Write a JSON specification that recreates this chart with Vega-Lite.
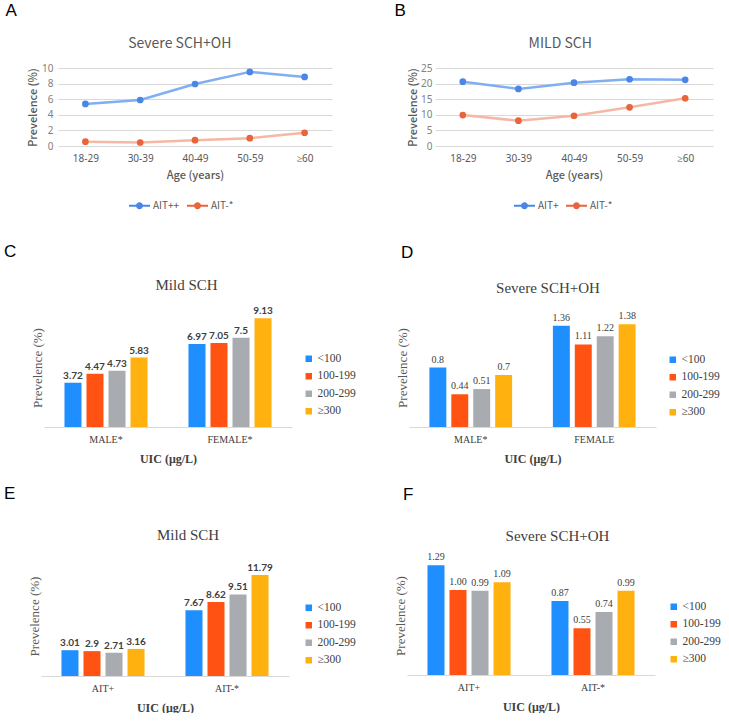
{
  "$schema": "https://vega.github.io/schema/vega-lite/v6.json",
  "padding": {"left": 4, "top": 2, "right": 6, "bottom": 0},
  "background": "white",
  "config": {
    "view": {"stroke": null},
    "legend": {"padding": 0, "labelFont": "Liberation Serif"},
    "title": {"fontWeight": "normal"}
  },
  "datasets": {
    "lineA": [
      {"age": "18-29", "grp": "AIT++", "v": 5.4},
      {"age": "30-39", "grp": "AIT++", "v": 5.9},
      {"age": "40-49", "grp": "AIT++", "v": 7.95},
      {"age": "50-59", "grp": "AIT++", "v": 9.5},
      {"age": "≥60", "grp": "AIT++", "v": 8.85},
      {"age": "18-29", "grp": "AIT-*", "v": 0.55},
      {"age": "30-39", "grp": "AIT-*", "v": 0.45},
      {"age": "40-49", "grp": "AIT-*", "v": 0.75},
      {"age": "50-59", "grp": "AIT-*", "v": 1.0},
      {"age": "≥60", "grp": "AIT-*", "v": 1.7}
    ],
    "lineB": [
      {"age": "18-29", "grp": "AIT+", "v": 20.6},
      {"age": "30-39", "grp": "AIT+", "v": 18.3},
      {"age": "40-49", "grp": "AIT+", "v": 20.3},
      {"age": "50-59", "grp": "AIT+", "v": 21.4},
      {"age": "≥60", "grp": "AIT+", "v": 21.2},
      {"age": "18-29", "grp": "AIT-*", "v": 9.9},
      {"age": "30-39", "grp": "AIT-*", "v": 8.1},
      {"age": "40-49", "grp": "AIT-*", "v": 9.7},
      {"age": "50-59", "grp": "AIT-*", "v": 12.4},
      {"age": "≥60", "grp": "AIT-*", "v": 15.3}
    ],
    "barC": [
      {"g": "MALE*", "uic": "<100", "v": 3.72},
      {"g": "MALE*", "uic": "100-199", "v": 4.47},
      {"g": "MALE*", "uic": "200-299", "v": 4.73},
      {"g": "MALE*", "uic": "≥300", "v": 5.83},
      {"g": "FEMALE*", "uic": "<100", "v": 6.97},
      {"g": "FEMALE*", "uic": "100-199", "v": 7.05},
      {"g": "FEMALE*", "uic": "200-299", "v": 7.5},
      {"g": "FEMALE*", "uic": "≥300", "v": 9.13}
    ],
    "barD": [
      {"g": "MALE*", "uic": "<100", "v": 0.8},
      {"g": "MALE*", "uic": "100-199", "v": 0.44},
      {"g": "MALE*", "uic": "200-299", "v": 0.51},
      {"g": "MALE*", "uic": "≥300", "v": 0.7},
      {"g": "FEMALE", "uic": "<100", "v": 1.36},
      {"g": "FEMALE", "uic": "100-199", "v": 1.11},
      {"g": "FEMALE", "uic": "200-299", "v": 1.22},
      {"g": "FEMALE", "uic": "≥300", "v": 1.38}
    ],
    "barE": [
      {"g": "AIT+", "uic": "<100", "v": 3.01},
      {"g": "AIT+", "uic": "100-199", "v": 2.9},
      {"g": "AIT+", "uic": "200-299", "v": 2.71},
      {"g": "AIT+", "uic": "≥300", "v": 3.16},
      {"g": "AIT-*", "uic": "<100", "v": 7.67},
      {"g": "AIT-*", "uic": "100-199", "v": 8.62},
      {"g": "AIT-*", "uic": "200-299", "v": 9.51},
      {"g": "AIT-*", "uic": "≥300", "v": 11.79}
    ],
    "barF": [
      {"g": "AIT+", "uic": "<100", "v": 1.29},
      {"g": "AIT+", "uic": "100-199", "v": 1.0},
      {"g": "AIT+", "uic": "200-299", "v": 0.99},
      {"g": "AIT+", "uic": "≥300", "v": 1.09},
      {"g": "AIT-*", "uic": "<100", "v": 0.87},
      {"g": "AIT-*", "uic": "100-199", "v": 0.55},
      {"g": "AIT-*", "uic": "200-299", "v": 0.74},
      {"g": "AIT-*", "uic": "≥300", "v": 0.99}
    ]
  },
  "spacing": 32,
  "resolve": {"scale": {"color": "independent", "x": "independent", "y": "independent", "xOffset": "independent"}, "legend": {"color": "independent"}},
  "vconcat": [
    {
      "spacing": 62,
      "resolve": {"scale": {"color": "independent", "x": "independent", "y": "independent"}, "legend": {"color": "independent"}},
      "hconcat": [
        {
          "title": {"text": "A", "anchor": "start", "dx": -22, "offset": 17, "font": "Liberation Sans", "fontSize": 17, "color": "black"},
          "resolve": {"scale": {"color": "independent"}, "legend": {"color": "independent"}},
          "vconcat": [
            {
              "width": 274, "height": 78,
              "title": {"text": "Severe SCH+OH", "font": "Noto Sans CJK SC", "fontSize": 14, "color": "#595959", "anchor": "middle", "frame": "bounds", "offset": 12},
              "data": {"name": "lineA"},
              "encoding": {
                "x": {"field": "age", "type": "ordinal", "sort": ["18-29", "30-39", "40-49", "50-59", "≥60"], "scale": {"type": "point", "padding": 0.5},
                  "axis": {"title": "Age (years)", "labelAngle": 0, "domain": false, "ticks": false, "labelPadding": 7, "labelFont": "Noto Sans", "labelFontSize": 10, "labelColor": "#595959", "titleFont": "Noto Sans CJK SC", "titleFontSize": 11, "titleFontWeight": 500, "titleColor": "#595959", "titlePadding": 6}},
                "y": {"field": "v", "type": "quantitative", "scale": {"domain": [0, 10], "nice": false},
                  "axis": {"title": "Prevelence (%)", "values": [0, 2, 4, 6, 8, 10], "domain": false, "ticks": false, "gridColor": "#D9D9D9", "labelPadding": 5, "labelFont": "Noto Sans", "labelFontSize": 10, "labelColor": "#7F7F7F", "titleFont": "Noto Sans CJK SC", "titleFontSize": 11, "titleFontWeight": 500, "titleColor": "#595959", "titlePadding": 3}}
              },
              "layer": [
                {"transform": [{"filter": "datum.grp === 'AIT++'"}], "mark": {"type": "line", "strokeWidth": 2.5, "color": "#7FAEF3"}, "encoding": {}},
                {"transform": [{"filter": "datum.grp === 'AIT-*'"}], "mark": {"type": "line", "strokeWidth": 2.5, "color": "#F5B8A5"}, "encoding": {}},
                {"mark": {"type": "point", "size": 45, "opacity": 1, "filled": true},
                  "encoding": {
                    "color": {"field": "grp", "type": "nominal", "scale": {"domain": ["AIT++", "AIT-*"], "range": ["#4A86E8", "#E9643A"]},
                      "legend": {"title": null, "orient": "none", "legendX": 70, "legendY": 126, "direction": "horizontal", "symbolType": "M-1,-0.1H1V0.1H-1Z M0.33,0A0.33,0.33,0,1,1,-0.33,0A0.33,0.33,0,1,1,0.33,0Z", "symbolSize": 441, "symbolOpacity": 1, "labelFont": "Noto Sans CJK SC", "labelFontSize": 10, "labelColor": "#595959", "labelOffset": 2, "columnPadding": 6}}
                  }}
              ]
            }
          ]
        },
        {
          "title": {"text": "B", "anchor": "start", "dx": -13, "offset": 17, "font": "Liberation Sans", "fontSize": 17, "color": "black"},
          "resolve": {"scale": {"color": "independent"}, "legend": {"color": "independent"}},
          "vconcat": [
            {
              "width": 278, "height": 78,
              "title": {"text": "MILD SCH", "font": "Noto Sans CJK SC", "fontSize": 14, "color": "#595959", "anchor": "middle", "frame": "bounds", "offset": 12},
              "data": {"name": "lineB"},
              "encoding": {
                "x": {"field": "age", "type": "ordinal", "sort": ["18-29", "30-39", "40-49", "50-59", "≥60"], "scale": {"type": "point", "padding": 0.5},
                  "axis": {"title": "Age (years)", "labelAngle": 0, "domain": false, "ticks": false, "labelPadding": 7, "labelFont": "Noto Sans", "labelFontSize": 10, "labelColor": "#595959", "titleFont": "Noto Sans CJK SC", "titleFontSize": 11, "titleFontWeight": 500, "titleColor": "#595959", "titlePadding": 6}},
                "y": {"field": "v", "type": "quantitative", "scale": {"domain": [0, 25], "nice": false},
                  "axis": {"title": "Prevelence (%)", "values": [0, 5, 10, 15, 20, 25], "domain": false, "ticks": false, "gridColor": "#D9D9D9", "labelPadding": 3, "labelFont": "Noto Sans", "labelFontSize": 10, "labelColor": "#7F7F7F", "titleFont": "Noto Sans CJK SC", "titleFontSize": 11, "titleFontWeight": 500, "titleColor": "#595959", "titlePadding": 2}}
              },
              "layer": [
                {"transform": [{"filter": "datum.grp === 'AIT+'"}], "mark": {"type": "line", "strokeWidth": 2.5, "color": "#7FAEF3"}, "encoding": {}},
                {"transform": [{"filter": "datum.grp === 'AIT-*'"}], "mark": {"type": "line", "strokeWidth": 2.5, "color": "#F5B8A5"}, "encoding": {}},
                {"mark": {"type": "point", "size": 45, "opacity": 1, "filled": true},
                  "encoding": {
                    "color": {"field": "grp", "type": "nominal", "scale": {"domain": ["AIT+", "AIT-*"], "range": ["#4A86E8", "#E9643A"]},
                      "legend": {"title": null, "orient": "none", "legendX": 78, "legendY": 126, "direction": "horizontal", "symbolType": "M-1,-0.1H1V0.1H-1Z M0.33,0A0.33,0.33,0,1,1,-0.33,0A0.33,0.33,0,1,1,0.33,0Z", "symbolSize": 441, "symbolOpacity": 1, "labelFont": "Noto Sans CJK SC", "labelFontSize": 10, "labelColor": "#595959", "labelOffset": 2, "columnPadding": 6}}
                  }}
              ]
            }
          ]
        }
      ]
    },
    {
      "spacing": 21,
      "resolve": {"scale": {"color": "independent", "x": "independent", "y": "independent", "xOffset": "independent"}, "legend": {"color": "independent"}},
      "vconcat": [
        {
          "spacing": 40,
          "resolve": {"scale": {"color": "independent", "x": "independent", "y": "independent", "xOffset": "independent"}, "legend": {"color": "independent"}},
          "hconcat": [
            {
              "title": {"text": "C", "anchor": "start", "dx": -27, "offset": 17, "font": "Liberation Sans", "fontSize": 17, "color": "black"},
              "resolve": {"scale": {"color": "independent"}, "legend": {"color": "independent"}},
              "vconcat": [
                {
                  "width": 248, "height": 119,
                  "title": {"text": "Mild SCH", "dx": -7, "font": "Liberation Serif", "fontSize": 15, "color": "#404040", "anchor": "middle", "frame": "bounds", "offset": 13},
                  "data": {"name": "barC"},
                  "encoding": {
                    "x": {"field": "g", "type": "nominal", "sort": null, "scale": {"range": [-14, 234], "paddingInner": 0, "paddingOuter": 0},
                      "axis": {"title": "UIC (μg/L)", "labelAngle": 0, "ticks": false, "domainColor": "#D9D9D9", "labelPadding": 7, "labelFont": "Liberation Serif", "labelFontSize": 10, "labelColor": "#404040", "titleFont": "Liberation Serif", "titleFontSize": 12, "titleFontWeight": "bold", "titleColor": "#404040", "titlePadding": 9}},
                    "xOffset": {"field": "uic", "type": "nominal", "sort": ["<100", "100-199", "200-299", "≥300"], "scale": {"paddingInner": 0.227, "paddingOuter": 0.93}},
                    "y": {"field": "v", "type": "quantitative", "scale": {"domain": [0, 10], "nice": false},
                      "axis": {"title": "Prevelence (%)", "offset": 14, "labels": false, "ticks": false, "domain": false, "grid": false, "titleFont": "Liberation Serif", "titleFontSize": 13, "titleFontWeight": "normal", "titleColor": "#595959", "titlePadding": 0}}
                  },
                  "layer": [
                    {"mark": {"type": "bar"},
                      "encoding": {"color": {"field": "uic", "type": "nominal", "sort": ["<100", "100-199", "200-299", "≥300"], "scale": {"domain": ["<100", "100-199", "200-299", "≥300"], "range": ["#1F8FFF", "#FF5213", "#A8ACB0", "#FFB20F"]},
                        "legend": {"title": " ", "titleFontSize": 10, "titlePadding": 35, "orient": "right", "offset": -3, "symbolType": "square", "symbolSize": 42, "labelFont": "Liberation Serif", "labelFontSize": 11.5, "labelColor": "#404040", "labelOffset": 3, "rowPadding": 4.5}}}},
                    {"mark": {"type": "text", "baseline": "alphabetic", "dy": -4, "font": "Lato", "fontWeight": "bold", "fontSize": 10, "color": "#404040"},
                      "encoding": {"text": {"field": "v", "type": "quantitative"}}}
                  ]
                }
              ]
            },
            {
              "title": {"text": "D", "anchor": "start", "dx": 5, "offset": 19, "font": "Liberation Sans", "fontSize": 17, "color": "black"},
              "resolve": {"scale": {"color": "independent"}, "legend": {"color": "independent"}},
              "vconcat": [
                {
                  "width": 247, "height": 119,
                  "title": {"text": "Severe SCH+OH", "dx": -10, "font": "Liberation Serif", "fontSize": 15, "color": "#404040", "anchor": "middle", "frame": "bounds", "offset": 12},
                  "data": {"name": "barD"},
                  "encoding": {
                    "x": {"field": "g", "type": "nominal", "sort": null, "scale": {"paddingInner": 0, "paddingOuter": 0},
                      "axis": {"title": "UIC (μg/L)", "labelAngle": 0, "ticks": false, "domainColor": "#D9D9D9", "labelPadding": 7, "labelFont": "Liberation Serif", "labelFontSize": 10, "labelColor": "#404040", "titleFont": "Liberation Serif", "titleFontSize": 12, "titleFontWeight": "bold", "titleColor": "#404040", "titlePadding": 9}},
                    "xOffset": {"field": "uic", "type": "nominal", "sort": ["<100", "100-199", "200-299", "≥300"], "scale": {"paddingInner": 0.227, "paddingOuter": 0.93}},
                    "y": {"field": "v", "type": "quantitative", "scale": {"domain": [0, 1.6], "nice": false},
                      "axis": {"title": "Prevelence (%)", "labels": false, "ticks": false, "domain": false, "grid": false, "titleFont": "Liberation Serif", "titleFontSize": 13, "titleFontWeight": "normal", "titleColor": "#595959", "titlePadding": 0}}
                  },
                  "layer": [
                    {"mark": {"type": "bar"},
                      "encoding": {"color": {"field": "uic", "type": "nominal", "sort": ["<100", "100-199", "200-299", "≥300"], "scale": {"domain": ["<100", "100-199", "200-299", "≥300"], "range": ["#1F8FFF", "#FF5213", "#A8ACB0", "#FFB20F"]},
                        "legend": {"title": " ", "titleFontSize": 10, "titlePadding": 36, "orient": "right", "offset": 11, "symbolType": "square", "symbolSize": 42, "labelFont": "Liberation Serif", "labelFontSize": 11.5, "labelColor": "#404040", "labelOffset": 3, "rowPadding": 4.5}}}},
                    {"mark": {"type": "text", "baseline": "alphabetic", "dy": -5, "font": "Liberation Serif", "fontSize": 10, "color": "#404040"},
                      "encoding": {"text": {"field": "v", "type": "quantitative"}}}
                  ]
                }
              ]
            }
          ]
        },
        {
          "spacing": 38,
          "resolve": {"scale": {"color": "independent", "x": "independent", "y": "independent", "xOffset": "independent"}, "legend": {"color": "independent"}},
          "hconcat": [
            {
              "title": {"text": "E", "anchor": "start", "dx": -24, "offset": 25, "font": "Liberation Sans", "fontSize": 17, "color": "black"},
              "resolve": {"scale": {"color": "independent"}, "legend": {"color": "independent"}},
              "vconcat": [
                {
                  "width": 248, "height": 120,
                  "title": {"text": "Mild SCH", "dx": -4, "font": "Liberation Serif", "fontSize": 15, "color": "#404040", "anchor": "middle", "frame": "bounds", "offset": 13},
                  "data": {"name": "barE"},
                  "encoding": {
                    "x": {"field": "g", "type": "nominal", "sort": null, "scale": {"range": [-17, 231], "paddingInner": 0, "paddingOuter": 0},
                      "axis": {"title": "UIC (μg/L)", "labelAngle": 0, "ticks": false, "domainColor": "#D9D9D9", "labelPadding": 7, "labelFont": "Liberation Serif", "labelFontSize": 10, "labelColor": "#404040", "titleFont": "Liberation Serif", "titleFontSize": 12, "titleFontWeight": "bold", "titleColor": "#404040", "titlePadding": 9}},
                    "xOffset": {"field": "uic", "type": "nominal", "sort": ["<100", "100-199", "200-299", "≥300"], "scale": {"paddingInner": 0.227, "paddingOuter": 0.93}},
                    "y": {"field": "v", "type": "quantitative", "scale": {"domain": [0, 14], "nice": false},
                      "axis": {"title": "Prevelence (%)", "offset": 17, "labels": false, "ticks": false, "domain": false, "grid": false, "titleFont": "Liberation Serif", "titleFontSize": 13, "titleFontWeight": "normal", "titleColor": "#595959", "titlePadding": 0}}
                  },
                  "layer": [
                    {"mark": {"type": "bar"},
                      "encoding": {"color": {"field": "uic", "type": "nominal", "sort": ["<100", "100-199", "200-299", "≥300"], "scale": {"domain": ["<100", "100-199", "200-299", "≥300"], "range": ["#1F8FFF", "#FF5213", "#A8ACB0", "#FFB20F"]},
                        "legend": {"title": " ", "titleFontSize": 10, "titlePadding": 36, "orient": "right", "offset": -3, "symbolType": "square", "symbolSize": 42, "labelFont": "Liberation Serif", "labelFontSize": 11.5, "labelColor": "#404040", "labelOffset": 3, "rowPadding": 4.5}}}},
                    {"mark": {"type": "text", "baseline": "alphabetic", "dy": -4, "font": "Lato", "fontWeight": "bold", "fontSize": 10, "color": "#404040"},
                      "encoding": {"text": {"field": "v", "type": "quantitative"}}}
                  ]
                }
              ]
            },
            {
              "title": {"text": "F", "anchor": "start", "dx": 9, "offset": 25, "font": "Liberation Sans", "fontSize": 17, "color": "black"},
              "resolve": {"scale": {"color": "independent"}, "legend": {"color": "independent"}},
              "vconcat": [
                {
                  "width": 248, "height": 119,
                  "title": {"text": "Severe SCH+OH", "font": "Liberation Serif", "fontSize": 15, "color": "#404040", "anchor": "middle", "frame": "bounds", "offset": 8},
                  "data": {"name": "barF"},
                  "encoding": {
                    "x": {"field": "g", "type": "nominal", "sort": null, "scale": {"paddingInner": 0, "paddingOuter": 0},
                      "axis": {"title": "UIC (μg/L)", "labelAngle": 0, "ticks": false, "domainColor": "#D9D9D9", "labelPadding": 7, "labelFont": "Liberation Serif", "labelFontSize": 10, "labelColor": "#404040", "titleFont": "Liberation Serif", "titleFontSize": 12, "titleFontWeight": "bold", "titleColor": "#404040", "titlePadding": 9}},
                    "xOffset": {"field": "uic", "type": "nominal", "sort": ["<100", "100-199", "200-299", "≥300"], "scale": {"paddingInner": 0.227, "paddingOuter": 0.93}},
                    "y": {"field": "v", "type": "quantitative", "scale": {"domain": [0, 1.4], "nice": false},
                      "axis": {"title": "Prevelence (%)", "labels": false, "ticks": false, "domain": false, "grid": false, "titleFont": "Liberation Serif", "titleFontSize": 13, "titleFontWeight": "normal", "titleColor": "#595959", "titlePadding": 0}}
                  },
                  "layer": [
                    {"mark": {"type": "bar"},
                      "encoding": {"color": {"field": "uic", "type": "nominal", "sort": ["<100", "100-199", "200-299", "≥300"], "scale": {"domain": ["<100", "100-199", "200-299", "≥300"], "range": ["#1F8FFF", "#FF5213", "#A8ACB0", "#FFB20F"]},
                        "legend": {"title": " ", "titleFontSize": 10, "titlePadding": 35, "orient": "right", "offset": 13, "symbolType": "square", "symbolSize": 42, "labelFont": "Liberation Serif", "labelFontSize": 11.5, "labelColor": "#404040", "labelOffset": 3, "rowPadding": 4.5}}}},
                    {"mark": {"type": "text", "baseline": "alphabetic", "dy": -5, "font": "Liberation Serif", "fontSize": 10, "color": "#404040"},
                      "encoding": {"text": {"field": "v", "type": "quantitative", "format": ".2f"}}}
                  ]
                }
              ]
            }
          ]
        }
      ]
    }
  ]
}
